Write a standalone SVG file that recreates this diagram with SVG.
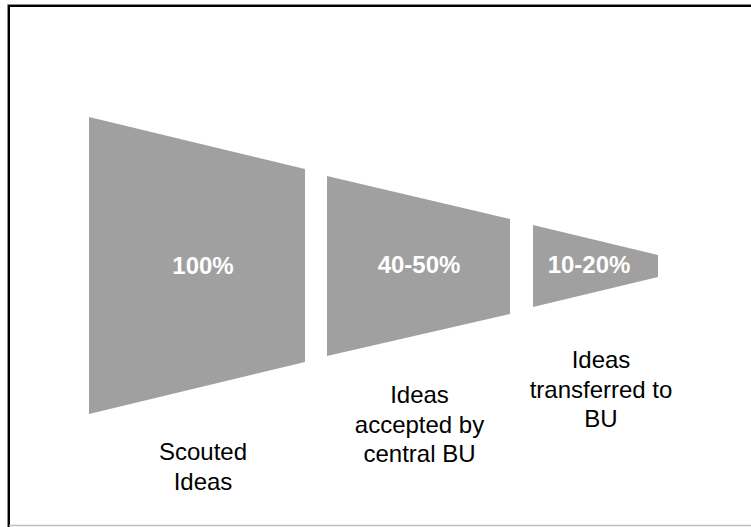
<svg xmlns="http://www.w3.org/2000/svg" width="751" height="527" viewBox="0 0 751 527">
<style>
.stage{fill:#a0a0a0;stroke:none}
.pct{font-family:"Liberation Sans",Arial,sans-serif;font-size:24px;font-weight:bold;fill:#ffffff;text-anchor:middle}
.lbl{font-family:"Liberation Sans",Arial,sans-serif;font-size:24px;fill:#000000;text-anchor:middle}
</style>
<rect x="0" y="0" width="751" height="527" fill="#ffffff"/>
<g id="frame" fill="none">
<polyline points="7.5,527 7.5,4.5 751,4.5" stroke="#8a8a8a" stroke-width="1"/>
<polyline points="9,527 9,6 751,6" stroke="#000000" stroke-width="2"/>
<line x1="9" y1="525.5" x2="751" y2="525.5" stroke="#c0c0c0" stroke-width="1.5"/>
</g>
<g id="connectors"></g>
<g id="stage1">
<polygon class="stage" points="89,117 305,169 305,362 89,414"/>
<text class="pct" x="203" y="274">100%</text>
</g>
<g id="stage2">
<polygon class="stage" points="327,176 510,219 510,314 327,356"/>
<text class="pct" x="419" y="273">40-50%</text>
</g>
<g id="stage3">
<polygon class="stage" points="533,225 658,255 658,277 533,307"/>
<text class="pct" x="589" y="273">10-20%</text>
</g>
<g id="label1">
<text class="lbl" x="203" y="460">Scouted</text>
<text class="lbl" x="203" y="489.5">Ideas</text>
</g>
<g id="label2">
<text class="lbl" x="419.5" y="403">Ideas</text>
<text class="lbl" x="419.5" y="432.5">accepted by</text>
<text class="lbl" x="419.5" y="462">central BU</text>
</g>
<g id="label3">
<text class="lbl" x="601" y="368">Ideas</text>
<text class="lbl" x="601" y="397.5">transferred to</text>
<text class="lbl" x="601" y="427">BU</text>
</g>
</svg>
